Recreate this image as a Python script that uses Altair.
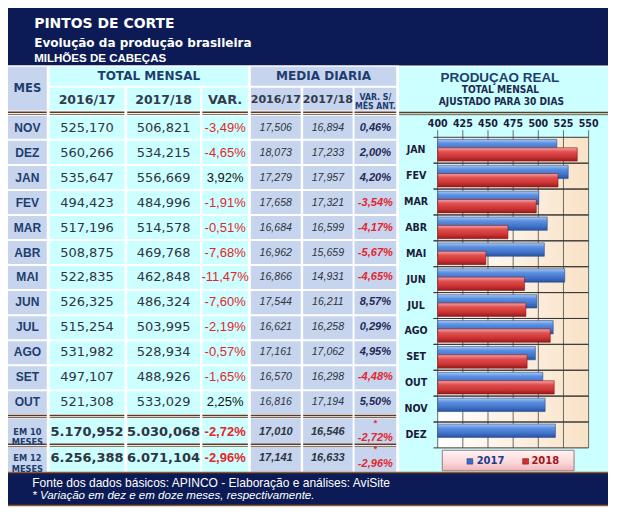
import altair as alt
import pandas as pd

# ---------------- data ----------------
months = ["NOV", "DEZ", "JAN", "FEV", "MAR", "ABR", "MAI", "JUN", "JUL", "AGO", "SET", "OUT"]
total_1617 = [525.170, 560.266, 535.647, 494.423, 517.196, 508.875, 522.835, 526.325, 515.254, 531.982, 497.107, 521.308]
total_1718 = [506.821, 534.215, 556.669, 484.996, 514.578, 469.768, 462.848, 486.324, 503.995, 528.934, 488.926, 533.029]
var_total = [-3.49, -4.65, 3.92, -1.91, -0.51, -7.68, -11.47, -7.60, -2.19, -0.57, -1.65, 2.25]
md_1617 = [17.506, 18.073, 17.279, 17.658, 16.684, 16.962, 16.866, 17.544, 16.621, 17.161, 16.570, 16.816]
md_1718 = [16.894, 17.233, 17.957, 17.321, 16.599, 15.659, 14.931, 16.211, 16.258, 17.062, 16.298, 17.194]
var_mes = [0.46, 2.00, 4.20, -3.54, -4.17, -5.67, -4.65, 8.57, 0.29, 4.95, -4.48, 5.50]

tot_labels = ["EM 10\nMESES", "EM 12\nMESES"]
tot_1617 = [5170.952, 6256.388]
tot_1718 = [5030.068, 6071.104]
tot_var = [-2.72, -2.96]
tot_md_1617 = [17.010, 17.141]
tot_md_1718 = [16.546, 16.633]
tot_var_mes = [-2.72, -2.96]

bar_months = ["JAN", "FEV", "MAR", "ABR", "MAI", "JUN", "JUL", "AGO", "SET", "OUT", "NOV", "DEZ"]
prod_2017 = [518.4, 529.7, 500.5, 508.9, 506.0, 526.3, 498.6, 514.8, 497.1, 504.5, 506.8, 517.0]
prod_2018 = [538.7, 519.6, 498.0, 469.8, 447.9, 486.3, 487.7, 511.9, 488.9, 515.8, None, None]
x_ticks = [400, 425, 450, 475, 500, 525, 550]

# ---------------- layout ----------------
W, H = 600, 500
SX, SY = W / 619, H / 524
FS = (SX + SY) / 2


def X(v):
    return round(v * SX, 2)


def Y(v):
    return round(v * SY, 2)


ARIAL = "Liberation Sans, Arial, sans-serif"
NARROW = "Liberation Sans Narrow, Arial Narrow, DejaVu Sans Condensed, sans-serif"
WIDE = "DejaVu Sans, Verdana, sans-serif"

NAVY = "#0c1b55"
CYAN = "#ccffff"
LAV = "#c6d4ee"
HEAD = "#1f3d6d"
NUM = "#2f3542"
RED = "#e3262b"
BROWN = "#5c3b20"
GOLD = "#8a5a2a"

ONE = pd.DataFrame({"k": [0]})

COLS = {
    "mes": (0, 40), "t1": (43, 120), "t2": (123, 198), "tv": (200.5, 247.5),
    "m1": (250.5, 302), "m2": (304.5, 355.5), "mv": (357.5, 400.5),
}
FILL = {"mes": LAV, "t1": CYAN, "t2": CYAN, "tv": CYAN, "m1": LAV, "m2": LAV, "mv": LAV}


def cx(k):
    return (COLS[k][0] + COLS[k][1]) / 2


def box(x0, x1, y0, y1, **mk):
    return alt.Chart(ONE).mark_rect(**mk).encode(
        x=alt.value(X(x0)), x2=alt.value(X(x1)), y=alt.value(Y(y0)), y2=alt.value(Y(y1)))


def hrule(x0, x1, y, color, w):
    return alt.Chart(ONE).mark_rule(color=color, strokeWidth=w).encode(
        x=alt.value(X(x0)), x2=alt.value(X(x1)), y=alt.value(Y(y)))


def txt(s, x, y, size, color, font=ARIAL, weight="bold", style="normal", align="center", lh=None):
    kw = dict(text=s, font=font, fontSize=size * FS, fontWeight=weight, fontStyle=style,
              color=color, align=align, baseline="middle", lineBreak="\n")
    if lh:
        kw["lineHeight"] = lh * FS
    return alt.Chart(ONE).mark_text(**kw).encode(x=alt.value(X(x)), y=alt.value(Y(y)))


def br(v, nd=3):
    s = f"{v:,.{nd}f}"
    return s.replace(",", "X").replace(".", ",").replace("X", ".")


rows = pd.DataFrame({
    "r": months,
    "t1": [br(v) for v in total_1617],
    "t2": [br(v) for v in total_1718],
    "tv": [br(v, 2) + "%" for v in var_total], "tvn": var_total,
    "m1": [br(v) for v in md_1617],
    "m2": [br(v) for v in md_1718],
    "mv": [br(v, 2) + "%" for v in var_mes], "mvn": var_mes,
})
tots = pd.DataFrame({
    "r": tot_labels,
    "t1": [br(v) for v in tot_1617],
    "t2": [br(v) for v in tot_1718],
    "tv": [br(v, 2) + "%" for v in tot_var], "tvn": tot_var,
    "m1": [br(v) for v in tot_md_1617],
    "m2": [br(v) for v in tot_md_1718],
    "mv": [br(v, 2) + "%" for v in tot_var_mes], "mvn": tot_var_mes,
    "star": ["*", "*"],
})

RS = alt.Scale(domain=months, range=[Y(113), Y(425.8)], paddingInner=0.08, paddingOuter=0)
TS = alt.Scale(domain=tot_labels, range=[Y(430.3), Y(486)], paddingInner=0.12, paddingOuter=0)

layers = []

# backgrounds
layers += [
    box(0, 619, 0, 60.3, fill=NAVY),
    box(0, 403.5, 60.3, 486.5, fill="white"),
    box(403.5, 619, 61.5, 486.5, fill=CYAN),
    box(0, 619, 486.5, 521.5, fill=NAVY),
]

# header cells
layers += [
    box(0, 40, 61.5, 107.5, fill=LAV),
    box(43, 247.5, 61.5, 81.5, fill=CYAN),
    box(250.5, 400.5, 61.5, 81.5, fill=LAV),
]
for k in ["t1", "t2", "tv", "m1", "m2", "mv"]:
    layers.append(box(COLS[k][0], COLS[k][1], 83.5, 107.5, fill=FILL[k]))

# body cells
for k, (x0, x1) in COLS.items():
    for df, sc in ((rows, RS), (tots, TS)):
        layers.append(alt.Chart(df).mark_rect(fill=FILL[k]).encode(
            y=alt.Y("r:N", scale=sc, axis=None), x=alt.value(X(x0)), x2=alt.value(X(x1))))

# double lines
for k, (x0, x1) in COLS.items():
    for y in (109.3, 427.0, 457.2):
        layers.append(hrule(x0, x1, y, BROWN, 1.6))
        layers.append(hrule(x0, x1, y + 2.2, BROWN, 0.8))
layers.append(hrule(403.5, 619, 109.5, BROWN, 1.6))
layers.append(hrule(403.5, 619, 111.8, BROWN, 0.8))
layers.append(hrule(0, 619, 486.8, GOLD, 1.6))
layers.append(hrule(0, 619, 521.5, GOLD, 1.5))

# header texts
layers += [
    txt("PINTOS DE CORTE", 27, 17, 14.5, "white", font=WIDE, align="left"),
    txt("Evolução da produção brasileira", 27, 36.5, 12.5, "white", font=WIDE, align="left"),
    txt("MILHÕES DE CABEÇAS", 27, 53, 12, "white", font=ARIAL, align="left"),
    txt("MES", 20, 84.5, 12, HEAD, font=WIDE),
    txt("TOTAL MENSAL", 145.25, 71.5, 12.5, HEAD, font=WIDE),
    txt("MEDIA DIARIA", 325.5, 71.5, 12.5, HEAD, font=WIDE),
    txt("2016/17", cx("t1"), 96, 13, "#333c4e", font=WIDE),
    txt("2017/18", cx("t2"), 96, 13, "#333c4e", font=WIDE),
    txt("VAR.", cx("tv"), 96, 13.5, "#333c4e", font=WIDE),
    txt("2016/17", cx("m1"), 96, 11.5, "#333c4e", font=WIDE),
    txt("2017/18", cx("m2"), 96, 11.5, "#333c4e", font=WIDE),
    txt("VAR. S/\nMÊS ANT.", cx("mv"), 93, 9, HEAD, font=NARROW, lh=9.5),
]


def col_text(df, sc, field, k, size, font, weight="normal", style="normal",
             color=NUM, neg=None, dy=0, lh=None):
    kw = dict(font=font, fontSize=size * FS, fontWeight=weight, fontStyle=style,
              baseline="middle", align="center", lineBreak="\n", dy=dy * SY)
    if lh:
        kw["lineHeight"] = lh * FS
    enc = dict(y=alt.Y("r:N", scale=sc, axis=None), x=alt.value(X(cx(k))),
               text=alt.Text(f"{field}:N"))
    if neg:
        enc["color"] = alt.condition(f"datum.{neg} < 0", alt.value(RED), alt.value(color))
    else:
        kw["color"] = color
    return alt.Chart(df).mark_text(**kw).encode(**enc)


# data rows
layers += [
    col_text(rows, RS, "r", "mes", 12.5, ARIAL, "bold", color=HEAD),
    col_text(rows, RS, "t1", "t1", 13.5, WIDE),
    col_text(rows, RS, "t2", "t2", 13.5, WIDE),
    col_text(rows, RS, "tv", "tv", 13.5, ARIAL, color="#111111", neg="tvn"),
    col_text(rows, RS, "m1", "m1", 11, ARIAL, style="italic"),
    col_text(rows, RS, "m2", "m2", 11, ARIAL, style="italic"),
    col_text(rows, RS, "mv", "mv", 11.5, ARIAL, "bold", "italic", color="#1f2a55", neg="mvn"),
]
# totals rows
layers += [
    col_text(tots, TS, "r", "mes", 9.5, NARROW, "bold", color=HEAD, lh=10.5),
    col_text(tots, TS, "t1", "t1", 13.5, WIDE, "bold"),
    col_text(tots, TS, "t2", "t2", 13.5, WIDE, "bold"),
    col_text(tots, TS, "tv", "tv", 13.5, ARIAL, "bold", color="#111111", neg="tvn"),
    col_text(tots, TS, "m1", "m1", 11.5, ARIAL, "bold", "italic"),
    col_text(tots, TS, "m2", "m2", 11.5, ARIAL, "bold", "italic"),
    col_text(tots, TS, "star", "mv", 9, ARIAL, "bold", color=RED, dy=-9.5),
    col_text(tots, TS, "mv", "mv", 11.5, ARIAL, "bold", "italic", color=RED, dy=6),
]

# footer
layers += [
    txt("Fonte dos dados básicos: APINCO - Elaboração e análises: AviSite", 25, 497.5, 12.5,
        "white", font=ARIAL, weight="normal", align="left"),
    txt("* Variação em dez  e em doze meses, respectivamente.", 25, 511, 12,
        "white", font=ARIAL, weight="normal", style="italic", align="left"),
]

# ---------------- bar chart panel ----------------
layers += [
    txt("PRODUÇAO REAL", 507.5, 73, 14, HEAD, font=ARIAL),
    txt("TOTAL MENSAL", 508, 86, 10.5, "#1a2a50", font=NARROW),
    txt("AJUSTADO PARA 30 DIAS", 509, 99, 10.5, "#1a2a50", font=NARROW),
]

XS = alt.Scale(domain=[400, 550], range=[X(443.3), X(599)], zero=False, nice=False)
YS = alt.Scale(domain=bar_months, range=[Y(135.5), Y(461)], paddingInner=0, paddingOuter=0)

plot_bg = alt.LinearGradient(gradient="linear", x1=0, x2=1, y1=0, y2=0, stops=[
    alt.GradientStop(color="#ffffff", offset=0),
    alt.GradientStop(color="#fcf1e4", offset=0.5),
    alt.GradientStop(color="#f9e2c6", offset=1)])
layers.append(box(443.3, 599, 135.5, 461, fill=plot_bg))

ticks_df = pd.DataFrame({"t": x_ticks})
bars_df = pd.DataFrame({"m": bar_months, "p17": prod_2017, "p18": prod_2018})

layers.append(alt.Chart(ticks_df).mark_rule(color="#6a6a6a", strokeWidth=1).encode(
    x=alt.X("t:Q", scale=XS, axis=None), y=alt.value(Y(128)), y2=alt.value(Y(461))))
for bp in (0, 1):
    layers.append(alt.Chart(bars_df).mark_rule(color="#3a3a3a", strokeWidth=1).encode(
        y=alt.Y("m:N", scale=YS, axis=None, bandPosition=bp),
        x=alt.value(X(439)), x2=alt.value(X(599))))

grad_blue = alt.LinearGradient(gradient="linear", x1=0, x2=0, y1=0, y2=1, stops=[
    alt.GradientStop(color="#a9c8f2", offset=0),
    alt.GradientStop(color="#5b8fe0", offset=0.3),
    alt.GradientStop(color="#3f72c8", offset=0.7),
    alt.GradientStop(color="#2a52a0", offset=1)])
grad_red = alt.LinearGradient(gradient="linear", x1=0, x2=0, y1=0, y2=1, stops=[
    alt.GradientStop(color="#f4a6a6", offset=0),
    alt.GradientStop(color="#e05050", offset=0.3),
    alt.GradientStop(color="#cc3232", offset=0.7),
    alt.GradientStop(color="#921c1c", offset=1)])

layers.append(alt.Chart(bars_df).mark_bar(
    size=14 * SY, yOffset=-4.4 * SY, fill=grad_blue, stroke="#2b4f8f", strokeWidth=0.6).encode(
    x=alt.X("p17:Q", scale=XS, axis=None), x2=alt.datum(400),
    y=alt.Y("m:N", scale=YS, axis=None)))
layers.append(alt.Chart(bars_df).mark_bar(
    size=14 * SY, yOffset=4.4 * SY, fill=grad_red, stroke="#8c1a1a", strokeWidth=0.6).encode(
    x=alt.X("p18:Q", scale=XS, axis=None), x2=alt.datum(400),
    y=alt.Y("m:N", scale=YS, axis=None)))

layers.append(alt.Chart(ticks_df).mark_text(
    font=NARROW, fontSize=11 * FS, fontWeight="bold", color="#1a1a3a", baseline="middle").encode(
    x=alt.X("t:Q", scale=XS, axis=None), y=alt.value(Y(121.5)), text="t:Q"))
layers.append(alt.Chart(bars_df).mark_text(
    font=NARROW, fontSize=11 * FS, fontWeight="bold", color="#1a1a3a", baseline="middle").encode(
    y=alt.Y("m:N", scale=YS, axis=None), x=alt.value(X(421)), text="m:N"))

# legend
leg_grad = alt.LinearGradient(gradient="linear", x1=0, x2=0, y1=0, y2=1, stops=[
    alt.GradientStop(color="#fff3f3", offset=0),
    alt.GradientStop(color="#fbd7da", offset=0.6),
    alt.GradientStop(color="#f0b4b8", offset=1)])
layers += [
    box(448, 584, 463.5, 485, fill=leg_grad, stroke="#a07878", strokeWidth=1),
    box(473.5, 479.5, 472.3, 478, fill="#3a6cc8", stroke="#1f3f80", strokeWidth=0.6),
    txt("2017", 483.5, 475, 11.5, "#1c3c8c", font=NARROW, align="left"),
    box(531, 537, 472.3, 478, fill="#d03030", stroke="#801818", strokeWidth=0.6),
    txt("2018", 540, 475, 11.5, "#a01515", font=NARROW, align="left"),
]

chart = alt.layer(*layers).resolve_scale(x="independent", y="independent").properties(
    width=W, height=H, padding=0, autosize=alt.AutoSizeParams(type="none"),
    background="white",
).configure_view(stroke=None)

chart.save("out.html", embed_options={"renderer": "svg", "actions": False})
